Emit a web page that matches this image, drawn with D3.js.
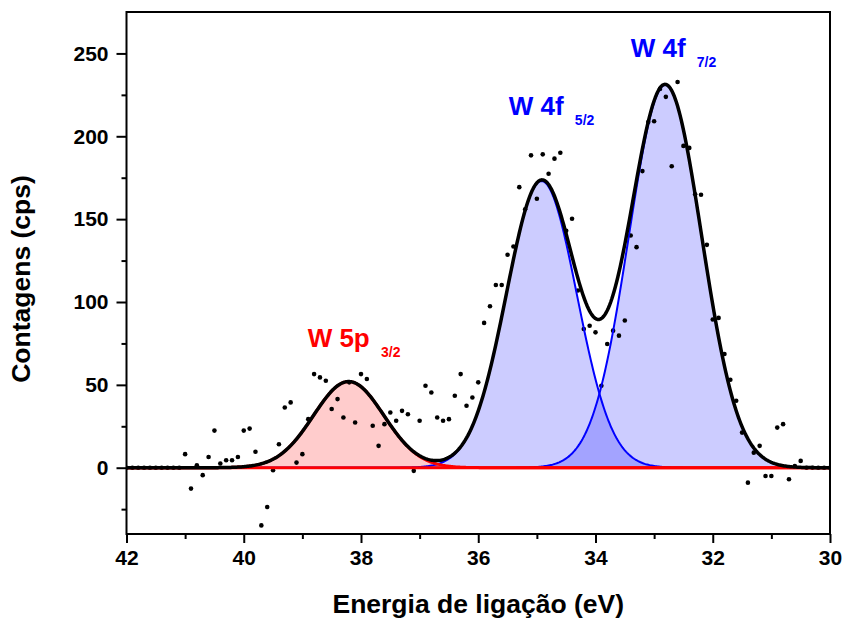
<!DOCTYPE html>
<html>
<head>
<meta charset="utf-8">
<script src="https://cdn.jsdelivr.net/npm/d3@7/dist/d3.min.js"></script>
<style>
  html, body { margin: 0; padding: 0; background: #fff; }
  svg { display: block; font-family: "Liberation Sans", Arial, Helvetica, sans-serif; }
</style>
</head>
<body>
<script>
// XPS spectrum of the W 4f / W 5p region: measured counts plus fitted components.

// Binding energy of each measured channel (eV)
const energy = [
  42.0, 41.9, 41.8, 41.7, 41.6, 41.5, 41.4, 41.3, 41.2, 41.1,
  41.0, 40.9, 40.8, 40.7, 40.6, 40.5, 40.4, 40.3, 40.2, 40.1,
  40.0, 39.9, 39.8, 39.7, 39.6, 39.5, 39.4, 39.3, 39.2, 39.1,
  39.0, 38.9, 38.8, 38.7, 38.6, 38.5, 38.4, 38.3, 38.2, 38.1,
  38.0, 37.9, 37.8, 37.7, 37.6, 37.5, 37.4, 37.3, 37.2, 37.1,
  37.0, 36.9, 36.8, 36.7, 36.6, 36.5, 36.4, 36.3, 36.2, 36.1,
  36.0, 35.9, 35.8, 35.7, 35.6, 35.5, 35.4, 35.3, 35.2, 35.1,
  35.0, 34.9, 34.8, 34.7, 34.6, 34.5, 34.4, 34.3, 34.2, 34.1,
  34.0, 33.9, 33.8, 33.7, 33.6, 33.5, 33.4, 33.3, 33.2, 33.1,
  33.0, 32.9, 32.8, 32.7, 32.6, 32.5, 32.4, 32.3, 32.2, 32.1,
  32.0, 31.9, 31.8, 31.7, 31.6, 31.5, 31.4, 31.3, 31.2, 31.1,
  31.0, 30.9, 30.8, 30.7, 30.6, 30.5, 30.4, 30.3, 30.2, 30.1,
  30.0
];

// Background-subtracted counts (cps) for each channel
const counts = [
  0, 0, 0, 0, 0, 0, 0, 0, 0, 0,
  8.2, -12.6, 1.5, -4.5, 6.5, 22.4, 2.5, 4.5, 4.5, 6.5,
  22.4, 23.6, 9.6, -34.8, -23.7, -1.5, 14.2, 36.3, 39.4, 3.1,
  8.2, 29.3, 56.5, 54.5, 52.5, 35.4, 41.4, 30.3, 51.5, 27.3,
  56.5, 53.5, 25.3, 13.2, 26.3, 33.3, 28.3, 34.3, 32.3, -1.9,
  28.3, 49.5, 45.4, 30.3, 28.3, 29.3, 43.4, 56.5, 37.4, 42.4,
  51.5, 87.4, 97.4, 110.3, 110.3, 128.5, 133.5, 169.3, 156.0, 188.5,
  162.3, 189.1, 177.4, 186.5, 190.1, 143.0, 150.2, 106.9, 83.7, 85.7,
  81.7, 49.5, 74.7, 82.7, 79.7, 88.8, 140.1, 133.1, 179.0, 208.6,
  209.1, 228.6, 223.8, 181.9, 232.8, 194.2, 193.0, 165.0, 164.7, 134.5,
  89.4, 90.4, 68.6, 53.1, 40.4, 21.2, -9.0, 9.1, 13.2, -5.0,
  -5.0, 24.2, 26.3, -7.0, 1.0, 4.1, 0, 0, 0, 0,
  0
];

// Fitted Gaussian components
const peakNames   = ["W 5p", "W 4f", "W 4f"];
const peakSubs    = ["3/2", "5/2", "7/2"];
const peakCenters = [38.21, 34.92, 32.81];   // eV
const peakHeights = [52, 173, 231];          // cps
const peakSigmas  = [0.60, 0.60, 0.62];      // eV

// Axis ticks
const xMajorTicks = [42, 40, 38, 36, 34, 32, 30];
const xMinorTicks = [41, 39, 37, 35, 33, 31];
const yMajorTicks = [0, 50, 100, 150, 200, 250];
const yMinorTicks = [-25, 25, 75, 125, 175, 225];

// ---- drawing ----
const W = 845, H = 619;
const plot = { left: 126.5, right: 830, top: 12, bottom: 534 };

const peakStyle = [
  { line: "#ff0000", fill: "rgba(255,0,0,0.2)", width: 3 },
  { line: "#0000ff", fill: "rgba(0,0,255,0.2)", width: 2 },
  { line: "#0000ff", fill: "rgba(0,0,255,0.2)", width: 2 }
];
// label anchor (eV, cps) for each component's annotation
const labelAnchor = [[38.91, 73], [35.48, 213], [33.40, 248]];

const x = d3.scaleLinear().domain([42, 30]).range([plot.left, plot.right]);
const y = d3.scaleLinear().domain([-40, 275]).range([plot.bottom, plot.top]);

const svg = d3.select("body").append("svg").attr("width", W).attr("height", H);

// fine energy grid for the fitted curves
const grid = d3.range(0, 601).map(i => 42 - i * 0.02);
const gauss = (e, k) =>
  peakHeights[k] * Math.exp(-((e - peakCenters[k]) ** 2) / (2 * peakSigmas[k] ** 2));
const comps = peakCenters.map((_, k) => grid.map(e => ({ e, v: gauss(e, k) })));
const envelope = grid.map(e => ({ e, v: peakCenters.reduce((s, _, k) => s + gauss(e, k), 0) }));

svg.append("clipPath").attr("id", "plotclip")
  .append("rect")
  .attr("x", plot.left).attr("y", plot.top)
  .attr("width", plot.right - plot.left).attr("height", plot.bottom - plot.top);

const g = svg.append("g").attr("clip-path", "url(#plotclip)");

const area = d3.area().x(d => x(d.e)).y0(y(0)).y1(d => y(d.v));
const line = d3.line().x(d => x(d.e)).y(d => y(d.v));

// filled components (blue ones first, red on top)
[1, 2, 0].forEach(k => {
  g.append("path").datum(comps[k]).attr("d", area)
    .attr("fill", peakStyle[k].fill).attr("stroke", "none");
});

// measured points
g.append("g").selectAll("circle")
  .data(energy.map((e, i) => ({ e, v: counts[i] })))
  .join("circle")
  .attr("cx", d => x(d.e)).attr("cy", d => y(d.v)).attr("r", 2.3)
  .attr("fill", "#000");

// component outlines
[1, 2, 0].forEach(k => {
  g.append("path").datum(comps[k]).attr("d", line)
    .attr("fill", "none").attr("stroke", peakStyle[k].line)
    .attr("stroke-width", peakStyle[k].width).attr("stroke-linejoin", "round");
});

// zero background line
g.append("line")
  .attr("x1", x(42)).attr("x2", x(30)).attr("y1", y(0)).attr("y2", y(0))
  .attr("stroke", "#ff0000").attr("stroke-width", 3);

// fitted envelope
g.append("path").datum(envelope).attr("d", line)
  .attr("fill", "none").attr("stroke", "#000").attr("stroke-width", 3.5)
  .attr("stroke-linejoin", "round");

// component labels
peakNames.forEach((name, k) => {
  const t = svg.append("text")
    .attr("x", x(labelAnchor[k][0])).attr("y", y(labelAnchor[k][1]))
    .attr("fill", peakStyle[k].line)
    .attr("font-weight", "bold").attr("font-size", 26);
  t.append("tspan").text(name + " ");
  t.append("tspan").attr("font-size", 14).attr("dy", 10).attr("dx", 4).text(peakSubs[k]);
});

// axes
const styleAxis = sel => {
  sel.select(".domain").remove();
  sel.selectAll("line").attr("stroke", "#000").attr("stroke-width", 2);
  sel.selectAll("text").attr("fill", "#000").attr("font-size", 21).attr("font-weight", "bold")
    .attr("font-family", "\"Liberation Sans\", Arial, sans-serif");
};

svg.append("g").attr("transform", `translate(0,${plot.bottom})`)
  .call(d3.axisBottom(x).tickValues(xMajorTicks).tickSize(9).tickPadding(7).tickFormat(d3.format("d")))
  .call(styleAxis);
svg.append("g").attr("transform", `translate(0,${plot.bottom})`)
  .call(d3.axisBottom(x).tickValues(xMinorTicks).tickSize(5).tickFormat(""))
  .call(styleAxis);
svg.append("g").attr("transform", `translate(${plot.left},0)`)
  .call(d3.axisLeft(y).tickValues(yMajorTicks).tickSize(10).tickPadding(8).tickFormat(d3.format("d")))
  .call(styleAxis);
svg.append("g").attr("transform", `translate(${plot.left},0)`)
  .call(d3.axisLeft(y).tickValues(yMinorTicks).tickSize(5).tickFormat(""))
  .call(styleAxis);

// frame
svg.append("rect")
  .attr("x", plot.left).attr("y", plot.top)
  .attr("width", plot.right - plot.left).attr("height", plot.bottom - plot.top)
  .attr("fill", "none").attr("stroke", "#000").attr("stroke-width", 2);

// axis titles
svg.append("text")
  .attr("x", (plot.left + plot.right) / 2).attr("y", 613)
  .attr("text-anchor", "middle").attr("font-size", 26.5).attr("font-weight", "bold")
  .text("Energia de ligação (eV)");
svg.append("text")
  .attr("transform", `translate(30,${(plot.top + plot.bottom) / 2 + 6}) rotate(-90)`)
  .attr("text-anchor", "middle").attr("font-size", 26.5).attr("font-weight", "bold")
  .text("Contagens (cps)");
</script>
</body>
</html>
